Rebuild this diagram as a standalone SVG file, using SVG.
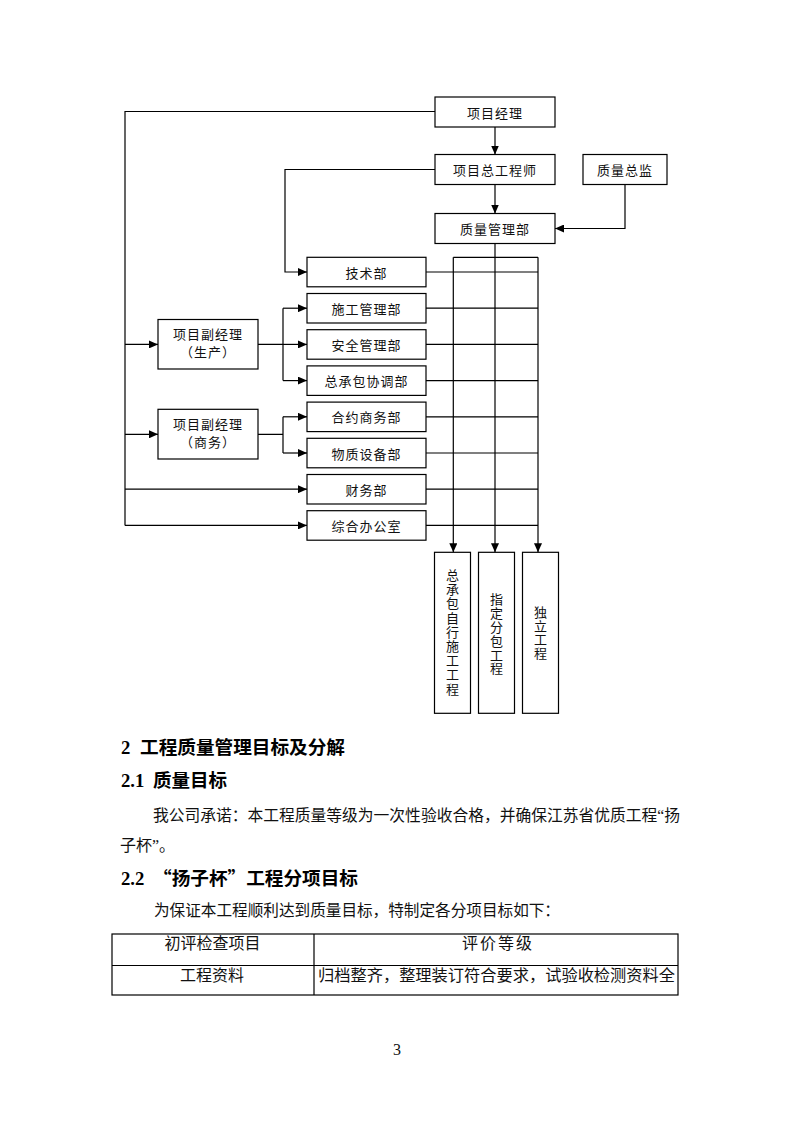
<svg xmlns="http://www.w3.org/2000/svg" width="793" height="1122" viewBox="0 0 793 1122">
<style>
.box{fill:#fff;stroke:#000;stroke-width:1.2}
.bt{font-family:"Noto Sans CJK SC","Noto Sans",sans-serif;font-size:13px;letter-spacing:1px;text-anchor:middle;dominant-baseline:central;fill:#111}
.vt{font-family:"Noto Sans CJK SC","Noto Sans",sans-serif;font-size:13px;text-anchor:middle;writing-mode:vertical-rl;fill:#111}
.ln{fill:none;stroke:#000;stroke-width:1.2}
.ar{fill:none;stroke:#000;stroke-width:1.2;marker-end:url(#ah)}
.body{font-family:"Liberation Serif","Noto Sans CJK SC",serif;font-size:16px;fill:#111}
.h{font-family:"Liberation Serif","Noto Sans CJK SC",serif;font-size:18.7px;font-weight:bold;fill:#000}
.hc{font-family:"Noto Sans CJK SC",sans-serif;font-size:18.7px;font-weight:bold;fill:#000}
.tb{fill:none;stroke:#000;stroke-width:1.2}
</style>
<defs>
<marker id="ah" markerUnits="userSpaceOnUse" markerWidth="10" markerHeight="8" refX="9" refY="4" orient="auto">
<path d="M0,0 L9,4 L0,8 Z" fill="#000"/>
</marker>
</defs>
<rect width="793" height="1122" fill="#fff"/>

<g id="connectors">
<path class="ln" d="M435,111.5 H125 V525.4"/>
<path class="ar" d="M125,344.4 H158"/>
<path class="ar" d="M125,434.3 H158"/>
<path class="ar" d="M125,489.2 H307"/>
<path class="ar" d="M125,525.4 H307"/>
<path class="ar" d="M495,127 V154.5"/>
<path class="ar" d="M495,184.5 V213.5"/>
<path class="ar" d="M435,169.5 H285 V272 H307"/>
<path class="ar" d="M625,184.5 V228.5 H555"/>
<path class="ln" d="M258,344.4 H283 M283,308.2 V380.6"/>
<path class="ar" d="M283,308.2 H307"/>
<path class="ar" d="M283,344.4 H307"/>
<path class="ar" d="M283,380.6 H307"/>
<path class="ln" d="M258,434.3 H283 M283,416.8 V453"/>
<path class="ar" d="M283,416.8 H307"/>
<path class="ar" d="M283,453 H307"/>
<path class="ln" d="M426,272 H538 M426,308.2 H538 M426,344.4 H538 M426,380.6 H538 M426,416.8 H538 M426,453 H538 M426,489.2 H538 M426,525.4 H538 M453.3,257.3 H538"/>
<path class="ar" d="M453.3,257.3 V552.3"/>
<path class="ar" d="M495,243.5 V552.3"/>
<path class="ar" d="M538,257.3 V552.3"/>
</g>

<g id="pm"><rect class="box" x="435" y="97" width="120" height="30"/><text class="bt" x="495" y="112">项目经理</text></g>
<g id="ce"><rect class="box" x="435" y="154.5" width="120" height="30"/><text class="bt" x="495" y="169.5">项目总工程师</text></g>
<g id="qs"><rect class="box" x="583" y="154.5" width="84" height="30"/><text class="bt" x="625" y="169.5">质量总监</text></g>
<g id="qm"><rect class="box" x="435" y="213.5" width="120" height="30"/><text class="bt" x="495" y="228.5">质量管理部</text></g>

<g id="d1"><rect class="box" x="307" y="257.3" width="119" height="29.5"/><text class="bt" x="366.5" y="272">技术部</text></g>
<g id="d2"><rect class="box" x="307" y="293.5" width="119" height="29.5"/><text class="bt" x="366.5" y="308.2">施工管理部</text></g>
<g id="d3"><rect class="box" x="307" y="329.7" width="119" height="29.5"/><text class="bt" x="366.5" y="344.4">安全管理部</text></g>
<g id="d4"><rect class="box" x="307" y="365.9" width="119" height="29.5"/><text class="bt" x="366.5" y="380.6">总承包协调部</text></g>
<g id="d5"><rect class="box" x="307" y="402.1" width="119" height="29.5"/><text class="bt" x="366.5" y="416.8">合约商务部</text></g>
<g id="d6"><rect class="box" x="307" y="438.3" width="119" height="29.5"/><text class="bt" x="366.5" y="453">物质设备部</text></g>
<g id="d7"><rect class="box" x="307" y="474.5" width="119" height="29.5"/><text class="bt" x="366.5" y="489.2">财务部</text></g>
<g id="d8"><rect class="box" x="307" y="510.7" width="119" height="29.5"/><text class="bt" x="366.5" y="525.4">综合办公室</text></g>

<g id="vp1"><rect class="box" x="158" y="319.5" width="100" height="49.5"/><text class="bt" x="208" y="333.3">项目副经理</text><text class="bt" x="208" y="351.7">（生产）</text></g>
<g id="vp2"><rect class="box" x="158" y="409.3" width="100" height="49.7"/><text class="bt" x="208" y="423.3">项目副经理</text><text class="bt" x="208" y="441.7">（商务）</text></g>

<g id="b1"><rect class="box" x="434.5" y="552.3" width="36" height="161"/>
<text class="vt" x="452.5" y="632.4" letter-spacing="1.2">总承包自行施工工程</text></g>
<g id="b2"><rect class="box" x="478.5" y="552.3" width="36" height="161"/>
<text class="vt" x="496.5" y="634.4" letter-spacing="0.8">指定分包工程</text></g>
<g id="b3"><rect class="box" x="522.5" y="552.3" width="36" height="161"/>
<text class="vt" x="540.5" y="633" letter-spacing="0.9">独立工程</text></g>

<g id="text">
<text class="h" x="121" y="754">2</text>
<text class="hc" x="140" y="754" textLength="205" lengthAdjust="spacingAndGlyphs">工程质量管理目标及分解</text>
<text class="h" x="121" y="787">2.1</text>
<text class="hc" x="153" y="787" textLength="74" lengthAdjust="spacingAndGlyphs">质量目标</text>
<text class="body" x="153" y="821" textLength="527" lengthAdjust="spacingAndGlyphs">我公司承诺：本工程质量等级为一次性验收合格，并确保江苏省优质工程“扬</text>
<text class="body" x="120" y="851">子杯”。</text>
<text class="h" x="121" y="885">2.2</text>
<text class="hc" x="153" y="885" textLength="205" lengthAdjust="spacingAndGlyphs">“扬子杯”工程分项目标</text>
<text class="body" x="154" y="916" textLength="406" lengthAdjust="spacingAndGlyphs">为保证本工程顺利达到质量目标，特制定各分项目标如下：</text>
</g>

<g id="table">
<rect class="tb" x="112" y="934" width="566" height="61"/>
<path class="tb" d="M112,965.5 H678 M314,934 V995"/>
<text class="body" x="212.5" y="949" text-anchor="middle">初评检查项目</text>
<text class="body" x="462" y="949" textLength="70" lengthAdjust="spacing">评价等级</text>
<text class="body" x="212" y="981" text-anchor="middle">工程资料</text>
<text class="body" x="318" y="981" textLength="357" lengthAdjust="spacingAndGlyphs">归档整齐，整理装订符合要求，试验收检测资料全</text>
</g>

<text class="body" x="397" y="1055" text-anchor="middle" font-size="12">3</text>
</svg>
